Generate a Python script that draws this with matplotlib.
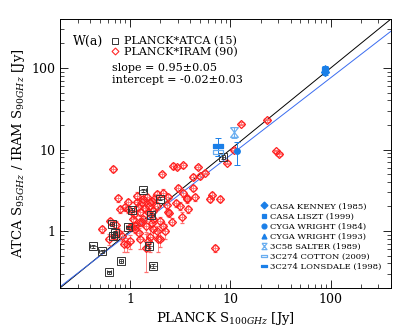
import numpy as np
import matplotlib.pyplot as plt
from matplotlib.lines import Line2D
from matplotlib.ticker import FuncFormatter

plt.rcParams['font.family'] = ['DejaVu Serif']
plt.rcParams['mathtext.fontset'] = 'dejavuserif'

# ------------------------------------------------------------
# datos
# ------------------------------------------------------------
atca_x = [0.43, 0.52, 0.62, 0.81, 0.68, 0.71, 0.66, 0.96, 1.33, 1.04,
          1.55, 1.70, 2.0, 1.61, 8.5]
atca_y = [0.65, 0.565, 0.31, 0.43, 0.87, 0.95, 1.22, 1.11, 3.16, 1.82,
          0.66, 0.37, 2.5, 1.58, 8.1]
atca_xerr = [0.08, 0.06, 0.04, 0.05, 0.05, 0.05, 0.05, 0.06, 0.08, 0.06,
             0.08, 0.08, 0.1, 0.08, 0.04]

iram_x = [0.68, 0.76, 0.52, 0.63, 0.61, 0.70, 0.83, 0.93, 0.80, 0.96,
          1.04, 1.12, 1.26, 1.16, 1.31, 1.46, 1.64, 1.84, 1.52, 1.36,
          1.70, 1.84, 1.58, 1.52, 1.91, 2.14, 2.07, 2.70, 3.39, 2.14,
          2.40, 3.02, 2.40, 3.14, 3.66, 3.27, 4.26, 4.43, 4.97, 12.9,
          23.2, 28.8, 30.6, 9.3, 10.9, 5.57, 4.71, 2.91, 4.2, 6.5,
          6.25, 7.86, 3.71, 3.8, 2.44, 2.32, 7.1, 1.36, 1.16, 1.58,
          1.84, 0.96, 0.89, 1.26, 1.70, 1.08, 1.31, 1.0, 1.12, 1.99,
          1.70, 2.23, 1.26, 0.86, 1.99, 1.42, 1.20, 1.55, 1.75, 1.10,
          1.45, 1.65, 2.6, 0.72, 0.75, 1.22, 1.45, 1.0, 2.9, 3.4]
iram_y = [5.8, 2.55, 1.05, 1.32, 0.80, 0.86, 0.88, 0.69, 1.86, 1.86,
          1.11, 1.16, 1.28, 2.7, 2.24, 2.58, 2.34, 2.04, 1.69, 1.40,
          1.40, 1.01, 0.84, 0.76, 0.80, 1.16, 4.96, 6.25, 6.4, 2.96,
          2.58, 3.41, 1.69, 2.04, 2.46, 1.47, 3.41, 2.58, 4.73, 20.8,
          22.8, 9.5, 8.7, 6.9, 10.0, 5.2, 6.1, 6.1, 4.6, 2.78,
          2.5, 2.5, 2.53, 1.86, 1.66, 2.07, 0.62, 2.46, 2.24, 2.24,
          2.83, 2.27, 1.95, 1.69, 1.77, 1.40, 1.28, 1.11, 1.06, 1.34,
          1.06, 1.01, 0.80, 0.69, 0.80, 1.9, 1.95, 2.0, 2.5, 1.6,
          1.15, 1.25, 1.3, 1.2, 0.98, 0.95, 0.62, 0.75, 2.2, 2.9]
# errores relativos en y (la mayoria chicos, algunos grandes hacia abajo)
iram_yerr = [0.08, 0.1, 0.1, 0.1, 0.15, 0.1, 0.15, 0.2, 0.1, 0.1,
             0.1, 0.1, 0.1, 0.1, 0.1, 0.1, 0.1, 0.1, 0.1, 0.1,
             0.1, 0.15, 0.35, 0.25, 0.3, 0.1, 0.08, 0.08, 0.08, 0.1,
             0.1, 0.08, 0.1, 0.1, 0.1, 0.15, 0.08, 0.1, 0.08, 0.05,
             0.05, 0.05, 0.05, 0.05, 0.05, 0.05, 0.05, 0.05, 0.08, 0.08,
             0.08, 0.08, 0.08, 0.1, 0.1, 0.1, 0.1, 0.1, 0.1, 0.1,
             0.1, 0.1, 0.1, 0.1, 0.1, 0.1, 0.1, 0.1, 0.1, 0.1,
             0.2, 0.2, 0.25, 0.2, 0.2, 0.1, 0.1, 0.1, 0.1, 0.1,
             0.15, 0.15, 0.1, 0.1, 0.1, 0.15, 0.5, 0.2, 0.1, 0.1]

slope, intercept = 0.95, -0.02

# marcadores especiales
RECT = [(-1, -0.35), (1, -0.35), (1, 0.35), (-1, 0.35), (-1, -0.35)]
RELOJ = [(-0.8, 1), (0.8, 1), (-0.8, -1), (0.8, -1), (-0.8, 1)]

calibradores = [
    # etiqueta, x, y, yerr, marker, color, relleno
    ("CASA KENNEY (1985)", 87.0, 90.0, 8.0, "D", "#1a7fe8", True),
    ("CASA LISZT (1999)", 87.0, 95.0, 8.0, "s", "#1a7fe8", True),
    ("CYGA WRIGHT (1984)", 11.7, 9.5, 3.0, "o", "#1a7fe8", True),
    ("CYGA WRIGHT (1993)", 87.0, 100.0, 6.0, "^", "#1a7fe8", True),
    ("3C58 SALTER (1989)", 10.9, 16.3, 2.5, RELOJ, "#6aaef0", False),
    ("3C274 COTTON (2009)", 7.46, 9.4, 1.0, RECT, "#6aaef0", False),
    ("3C274 LONSDALE (1998)", 7.46, 11.2, 2.8, RECT, "#1a7fe8", True),
]

# ------------------------------------------------------------
# grafico
# ------------------------------------------------------------
fig = plt.figure(figsize=(4.09, 3.27), dpi=100)
ax = fig.add_axes([0.1467, 0.1193, 0.8093, 0.8227])

lim = np.array([0.2, 400])
ax.plot(lim, lim, color="black", lw=0.7, zorder=1)
ax.plot(lim, 10 ** (slope * np.log10(lim) + intercept), color="#3a6cf0", lw=0.7, zorder=1)

iy = np.array(iram_y)
ax.errorbar(iram_x, iram_y, yerr=iy * np.array(iram_yerr), xerr=np.array(iram_x) * 0.06,
            fmt="D", ms=4.5, mfc="none", mec="#ff1f1f", mew=0.9,
            ecolor="#ff7070", elinewidth=0.6, capsize=1.5, capthick=0.6, zorder=3)

ay = np.array(atca_y)
ax.errorbar(atca_x, atca_y, yerr=ay * 0.05, xerr=np.array(atca_x) * np.array(atca_xerr),
            fmt="s", ms=5.5, mfc="none", mec="#333333", mew=0.7,
            ecolor="#333333", elinewidth=0.5, capsize=1.5, capthick=0.5, zorder=4)

handles_cal = []
for lab, cx, cy, cerr, mk, col, fill in calibradores:
    ms = 7 if isinstance(mk, list) else 4
    ax.errorbar([cx], [cy], yerr=[cerr], fmt="none", ecolor=col,
                elinewidth=0.7, capsize=2, capthick=0.7, zorder=5)
    ax.plot([cx], [cy], ls="none", marker=mk, ms=ms, mfc=col if fill else "none",
            mec=col, mew=0.9, zorder=6)
    handles_cal.append(Line2D([], [], ls="none", marker=mk, ms=4.5 if isinstance(mk, list) else 3.5,
                              mec=col, mfc=col if fill else "none", mew=0.9))

ax.set_xscale("log")
ax.set_yscale("log")
ax.set_xlim(lim)
ax.set_ylim(lim)

fmt = FuncFormatter(lambda v, p: "%g" % v)
ax.xaxis.set_major_formatter(fmt)
ax.yaxis.set_major_formatter(fmt)
ax.xaxis.set_minor_formatter(FuncFormatter(lambda v, p: ""))
ax.yaxis.set_minor_formatter(FuncFormatter(lambda v, p: ""))
ax.tick_params(which="both", direction="in", top=True, right=True, labelsize=9)
ax.tick_params(which="major", length=6, width=0.6)
ax.tick_params(which="minor", length=3, width=0.5)
for s in ax.spines.values():
    s.set_linewidth(0.7)

ax.set_xlabel("PLANCK S$_{100GHz}$ [Jy]", fontsize=9.5, labelpad=3)
ax.set_ylabel("ATCA S$_{95GHz}$ / IRAM S$_{90GHz}$ [Jy]", fontsize=9.5, labelpad=3)

ax.text(0.039, 0.918, "W(a)", transform=ax.transAxes, fontsize=9, va="center")
h1 = Line2D([], [], ls="none", marker="s", ms=5, mfc="none", mec="#333333", mew=0.7)
h2 = Line2D([], [], ls="none", marker="D", ms=3.5, mfc="none", mec="#ff2a2a", mew=0.8)
ax.text(0.157, 0.818, "slope = 0.95\u00b10.05", transform=ax.transAxes, fontsize=8, va="center")
ax.text(0.157, 0.773, "intercept = -0.02\u00b10.03", transform=ax.transAxes, fontsize=8, va="center")

leg2 = ax.legend(handles_cal, [c[0] for c in calibradores], loc="lower right",
                 bbox_to_anchor=(0.985, 0.045), frameon=False, fontsize=6, handlelength=0.6,
                 handletextpad=0.4, labelspacing=0.25, borderpad=0.1)
ax.add_artist(leg2)
ax.legend([h1, h2], ["PLANCK*ATCA (15)", "PLANCK*IRAM (90)"], loc="upper left",
          bbox_to_anchor=(0.13, 0.965), frameon=False, fontsize=8, handlelength=0.8,
          handletextpad=0.4, labelspacing=0.05, borderpad=0.2)

fig.savefig("out.png", dpi=100)
